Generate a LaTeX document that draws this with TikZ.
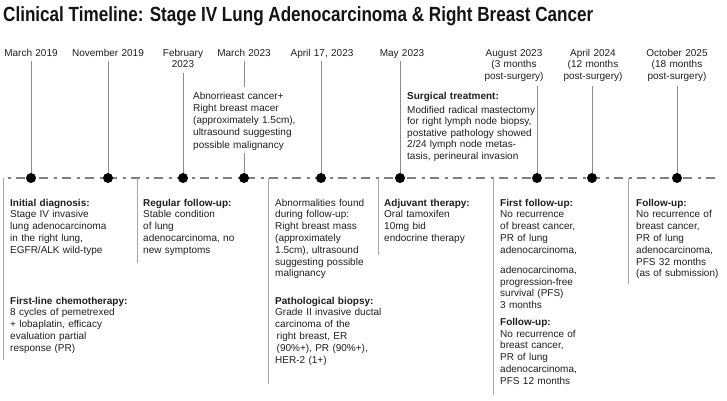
\documentclass[tikz,border=0pt]{standalone}
\usepackage{fontspec}
\setmainfont{Liberation Sans}
\begin{document}
\begin{tikzpicture}[x=1pt,y=-1pt,
  lbl/.style={font=\fontsize{10}{11.6}\selectfont, inner sep=0pt, text width=90pt, align=center, anchor=base, text=black!88},
  txt/.style={font=\fontsize{10}{11.8}\selectfont, inner sep=0pt, text width=135pt, align=left, anchor=base west, text=black!88},
  hd/.style={font=\fontsize{10}{11.8}\selectfont\bfseries},
  vline/.style={draw=black!45, line width=0.9pt},
  bline/.style={draw=black!35, line width=0.9pt},
  tline/.style={draw=black!50, line width=1.1pt, dash pattern=on 9pt off 5.5pt on 3pt off 5.5pt, dash phase=10pt},
  tdot/.style={circle, fill=black, inner sep=0pt, minimum size=10pt},
]
\useasboundingbox (0,0) rectangle (727,400);
\fill[white] (0,0) rectangle (727,400);

% title
\node[anchor=base west, inner sep=0pt, text=black!92] (title) at (3,21)
  {\resizebox{590pt}{\height}{\fontsize{20.5}{24}\selectfont\bfseries Clinical Timeline: Stage IV Lung Adenocarcinoma \& Right Breast Cancer}};

% timeline
\coordinate (tlL) at (3,178);
\coordinate (tlR) at (718,178);
\draw[tline] (tlL) -- (tlR);

% dots
\node[tdot] (p1) at (31,178) {};
\node[tdot] (p2) at (108,178) {};
\node[tdot] (p3) at (183,178) {};
\node[tdot] (p4) at (244,178) {};
\node[tdot] (p5) at (321,178) {};
\node[tdot] (p6) at (400,178) {};
\node[tdot] (p7) at (537,178) {};
\node[tdot] (p8) at (592,178) {};
\node[tdot] (p9) at (677,178) {};

% date labels
\node[lbl] (d1) at (31,56) {March 2019};
\node[lbl] (d2) at (108,56) {November 2019};
\node[lbl] (d3) at (183,56) {February\\2023};
\node[lbl] (d4) at (244,56) {March 2023};
\node[lbl] (d5) at (322,56) {April 17, 2023};
\node[lbl] (d6) at (402,56) {May 2023};
\node[lbl] (d7) at (514,56) {August 2023\\(3 months\\post-surgery)};
\node[lbl] (d8) at (593,56) {April 2024\\(12 months\\post-surgery)};
\node[lbl] (d9) at (677,56) {October 2025\\(18 months\\post-surgery)};

% connector tops
\coordinate (t1) at (31,61);
\coordinate (t2) at (108,61);
\coordinate (t3) at (183,73);
\coordinate (t4) at (244,61);
\coordinate (g4a) at (244,87);
\coordinate (g4b) at (244,153);
\coordinate (t5) at (321,61);
\coordinate (t6) at (400,61);
\coordinate (t7) at (537,86);
\coordinate (t8) at (592,86);
\coordinate (t9) at (677,86);

\draw[vline] (t1) -- (p1);
\draw[vline] (t2) -- (p2);
\draw[vline] (t3) -- (p3);
\draw[vline] (t4) -- (g4a);
\draw[vline] (g4b) -- (p4);
\draw[vline] (t5) -- (p5);
\draw[vline] (t6) -- (p6);
\draw[vline] (t7) -- (p7);
\draw[vline] (t8) -- (p8);
\draw[vline] (t9) -- (p9);

% upper text boxes
\node[txt, font=\fontsize{10}{12.2}\selectfont] (abn) at (193,99.3)
  {Abnorrieast cancer+\\Right breast macer\\(approximately 1.5cm),\\ultrasound suggesting\\possible malignancy};
\node[txt, hd] (surgh) at (407,99.3) {Surgical treatment:};
\node[txt, font=\fontsize{10}{11.5}\selectfont] (surg) at (407,113.3)
  {Modified radical mastectomy\\for right lymph node biopsy,\\postative pathology showed\\2/24 lymph node metas-\\tasis, perineural invasion};

% lower box borders
\coordinate (b1t) at (3,178);   \coordinate (b1b) at (3,360);
\coordinate (b2t) at (137,178); \coordinate (b2b) at (137,263);
\coordinate (b3t) at (268,178); \coordinate (b3b) at (268,384);
\coordinate (b4t) at (378,178); \coordinate (b4b) at (378,255);
\coordinate (b5t) at (493,178); \coordinate (b5b) at (493,395);
\coordinate (b6t) at (628,178); \coordinate (b6b) at (628,284);
\draw[bline] (b1t) -- (b1b);
\draw[bline] (b2t) -- (b2b);
\draw[bline] (b3t) -- (b3b);
\draw[bline] (b4t) -- (b4b);
\draw[bline] (b5t) -- (b5b);
\draw[bline] (b6t) -- (b6b);

% lower texts
\node[txt] (x1a) at (10,206) {\textbf{Initial diagnosis:}\\Stage IV invasive\\lung adenocarcinoma\\in the right lung,\\EGFR/ALK wild-type};
\node[txt] (x1b) at (10,304) {\textbf{First-line chemotherapy:}\\8 cycles of pemetrexed\\+ lobaplatin, efficacy\\evaluation partial\\response (PR)};

\node[txt] (x2a) at (143,206) {\textbf{Regular follow-up:}\\Stable condition\\of lung\\adenocarcinoma, no\\new symptoms};

\node[txt] (x3a) at (275,206) {Abnormalities found\\during follow-up:\\Right breast mass\\(approximately\\1.5cm), ultrasound\\suggesting possible\\malignancy};
\node[txt] (x3b) at (275,304) {\textbf{Pathological biopsy:}\\Grade II invasive ductal\\carcinoma of the\\\hspace*{1.5pt}right breast, ER\\\hspace*{1.5pt}(90\%+), PR (90\%+),\\HER-2 (1+)};

\node[txt] (x4a) at (384,206) {\textbf{Adjuvant therapy:}\\Oral tamoxifen\\10mg bid\\endocrine therapy};

\node[txt] (x5a) at (500,206) {\textbf{First follow-up:}\\No recurrence\\of breast cancer,\\PR of lung\\adenocarcinoma,};
\node[txt] (x5b) at (500,273.3) {adenocarcinoma,\\progression-free\\survival (PFS)\\3 months};
\node[txt] (x5c) at (500,325.3) {\textbf{Follow-up:}\\No recurrence of\\breast cancer,\\PR of lung\\adenocarcinoma,\\PFS 12 months};

\node[txt] (x6a) at (636,206) {\textbf{Follow-up:}\\No recurrence of\\breast cancer,\\PR of lung\\adenocarcinoma,\\PFS 32 months\\(as of submission)};
\end{tikzpicture}
\end{document}
